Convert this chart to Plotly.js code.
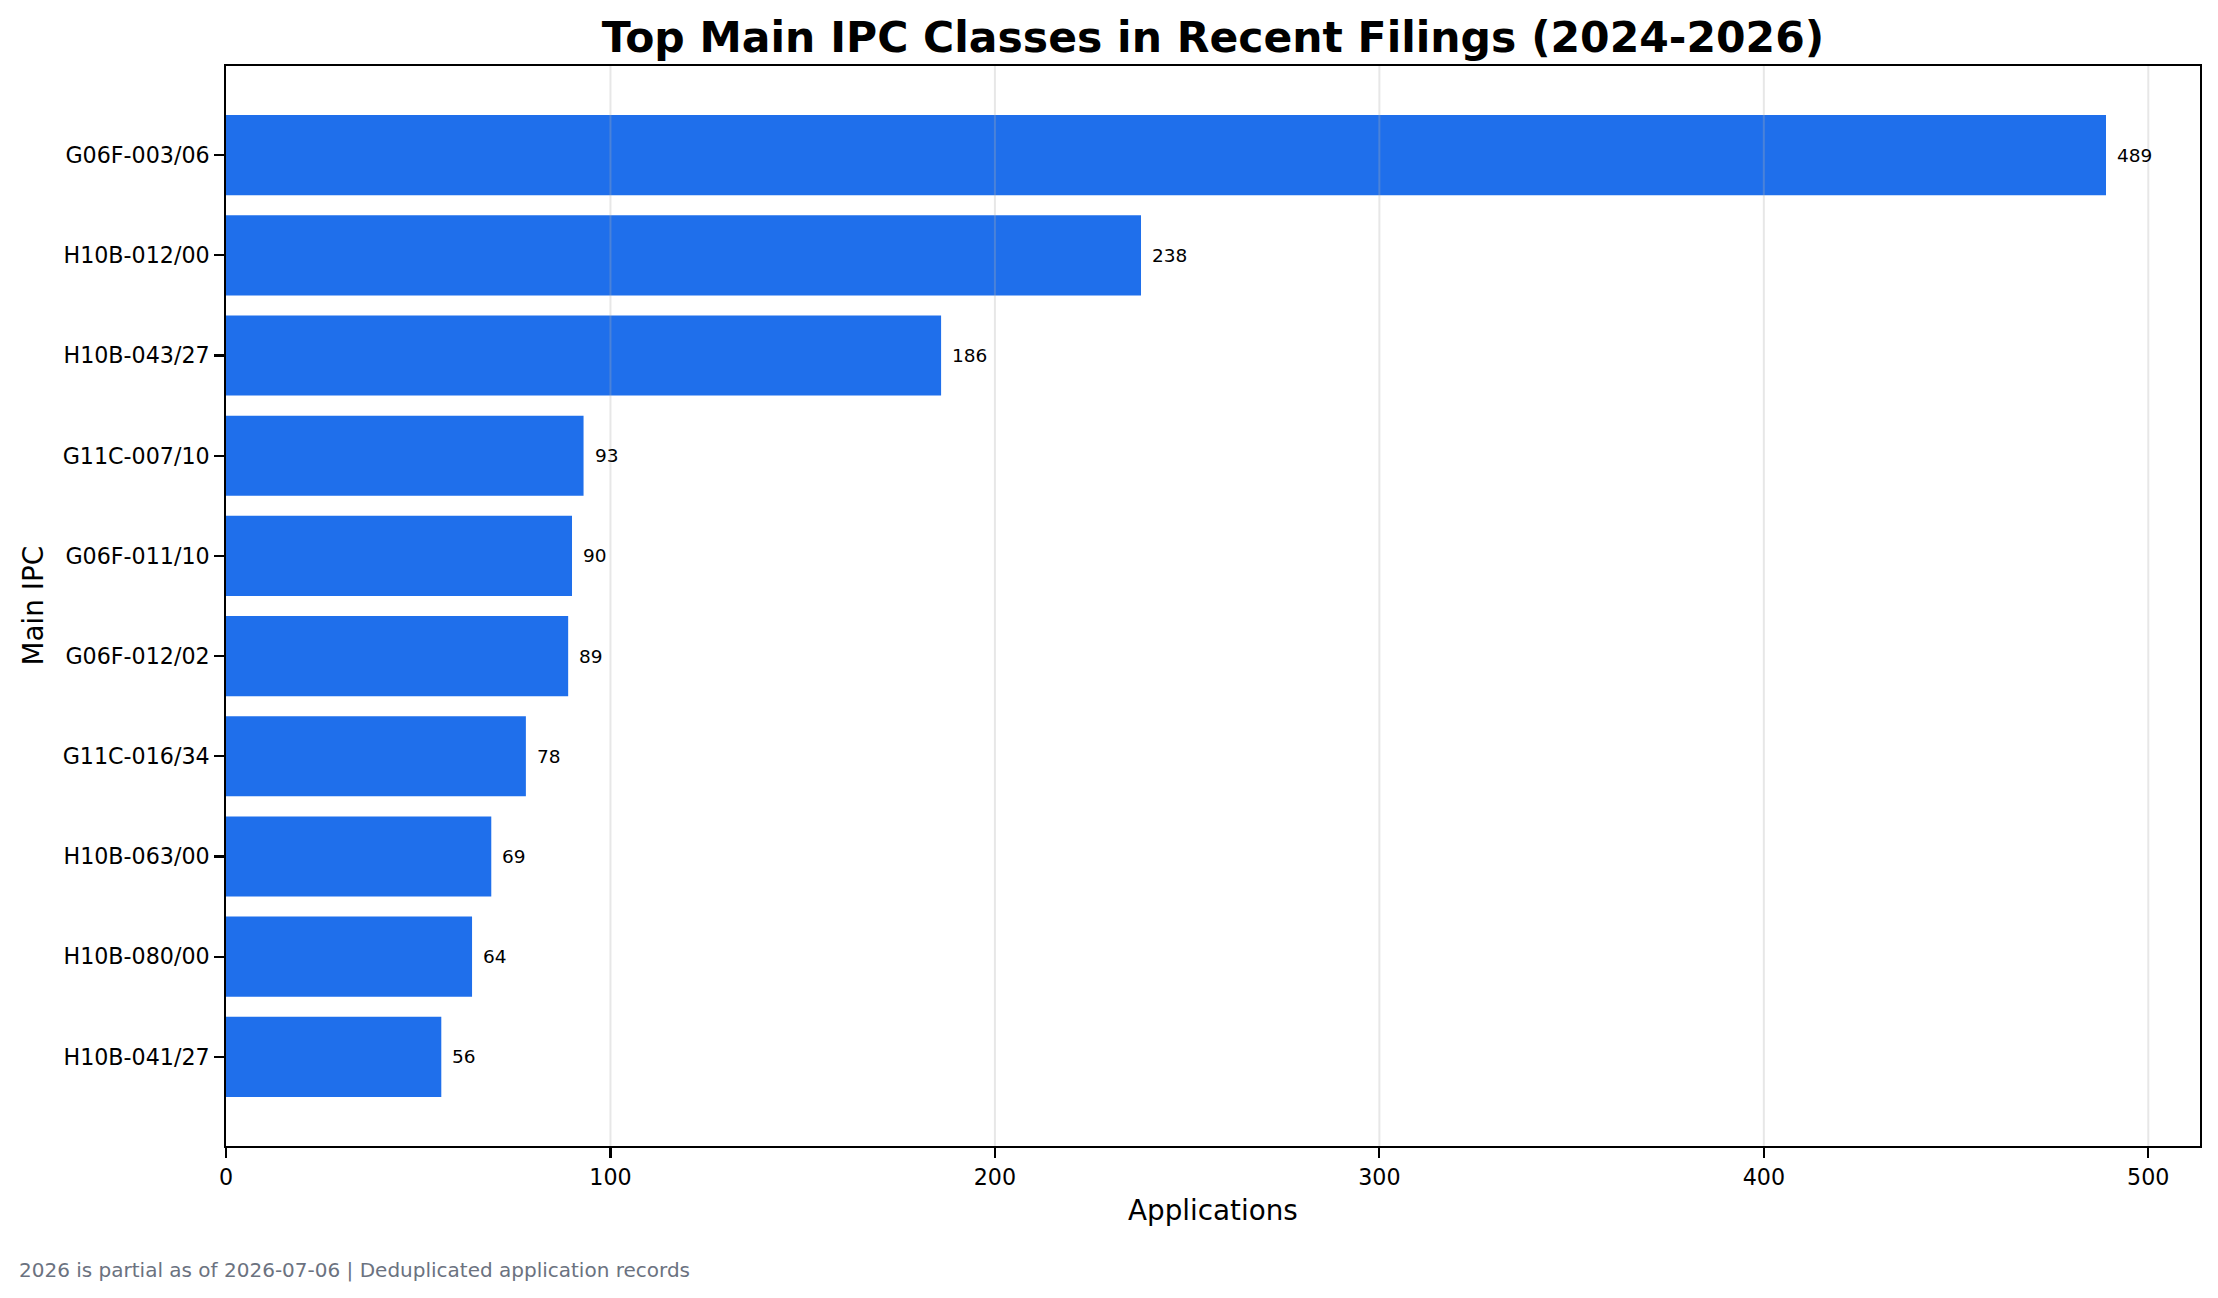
<!DOCTYPE html>
<html>
<head>
<meta charset="utf-8">
<script src="https://cdn.plot.ly/plotly-3.0.1.min.js"></script>
<style>html,body{margin:0;padding:0;background:#fff;}#chart{width:2218px;height:1298px;}</style>
</head>
<body>
<div id="chart"></div>
<script>
const categories = ["G06F-003/06","H10B-012/00","H10B-043/27","G11C-007/10","G06F-011/10","G06F-012/02","G11C-016/34","H10B-063/00","H10B-080/00","H10B-041/27"];
const applications = [489, 238, 186, 93, 90, 89, 78, 69, 64, 56];
const xTicks = [0, 100, 200, 300, 400, 500];
const titleText = "Top Main IPC Classes in Recent Filings (2024-2026)";
const xTitle = "Applications";
const yTitle = "Main IPC";
const footnote = "2026 is partial as of 2026-07-06 | Deduplicated application records";

const W = 2218, H = 1298;
const L = 226, R = 18, T = 66, B = 152;
const pw = W - L - R, ph = H - T - B;
const F = "DejaVu Sans";

const trace = {
  type: "bar",
  orientation: "h",
  x: applications,
  y: categories,
  width: 0.8,
  marker: {color: "#1f6feb", line: {width: 0}},
  hoverinfo: "skip"
};

const annotations = applications.map((v, i) => ({
  x: v, y: categories[i], xref: "x", yref: "y",
  text: String(v), showarrow: false, xanchor: "left", yanchor: "middle",
  xshift: 9, font: {family: F, size: 18.5, color: "#000"}
}));
annotations.push({
  xref: "paper", yref: "paper", x: (32.5 - L) / pw, y: 0.5,
  text: yTitle, textangle: -90, showarrow: false, xanchor: "center", yanchor: "middle",
  font: {family: F, size: 27.8, color: "#000"}
});
annotations.push({
  xref: "paper", yref: "paper", x: 0.5, y: -(1210 - (T + ph)) / ph,
  text: xTitle, showarrow: false, xanchor: "center", yanchor: "middle",
  font: {family: F, size: 27.8, color: "#000"}
});
annotations.push({
  xref: "paper", yref: "paper", x: (17 - L) / pw, y: -(1270 - (T + ph)) / ph,
  text: footnote, showarrow: false, xanchor: "left", yanchor: "middle",
  font: {family: F, size: 20, color: "#6b7280"}
});

const shapes = xTicks.filter(t => t > 0).map(t => ({
  type: "line", layer: "above", xref: "x", yref: "paper",
  x0: t, x1: t, y0: 0, y1: 1,
  line: {color: "rgba(176,176,176,0.3)", width: 2}
}));

const layout = {
  width: W, height: H,
  margin: {l: L, r: R, t: T, b: B, pad: 0},
  paper_bgcolor: "#fff", plot_bgcolor: "#fff",
  showlegend: false,
  font: {family: F, color: "#000"},
  title: {
    text: "<b>" + titleText + "</b>",
    font: {family: F, size: 42.5, color: "#000"},
    x: (L + pw / 2) / W, xanchor: "center", xref: "container",
    y: 1 - 37 / H, yanchor: "middle", yref: "container"
  },
  xaxis: {
    range: [0, 513.45], tickvals: xTicks, ticktext: xTicks.map(String),
    showgrid: false, zeroline: false,
    showline: true, mirror: true, linecolor: "#000", linewidth: 2.2,
    ticks: "outside", ticklen: 9.7, tickwidth: 2.2, tickcolor: "#000",
    tickfont: {family: F, size: 22.2, color: "#000"},
    fixedrange: true
  },
  yaxis: {
    type: "category", range: [9.89, -0.89],
    showgrid: false, zeroline: false,
    showline: true, mirror: true, linecolor: "#000", linewidth: 2.2,
    ticks: "outside", ticklen: 9.7, tickwidth: 2.2, tickcolor: "#000",
    tickfont: {family: F, size: 22.2, color: "#000"},
    fixedrange: true
  },
  annotations: annotations,
  shapes: shapes
};

Plotly.newPlot("chart", [trace], layout, {displayModeBar: false, staticPlot: true});
</script>
</body>
</html>
